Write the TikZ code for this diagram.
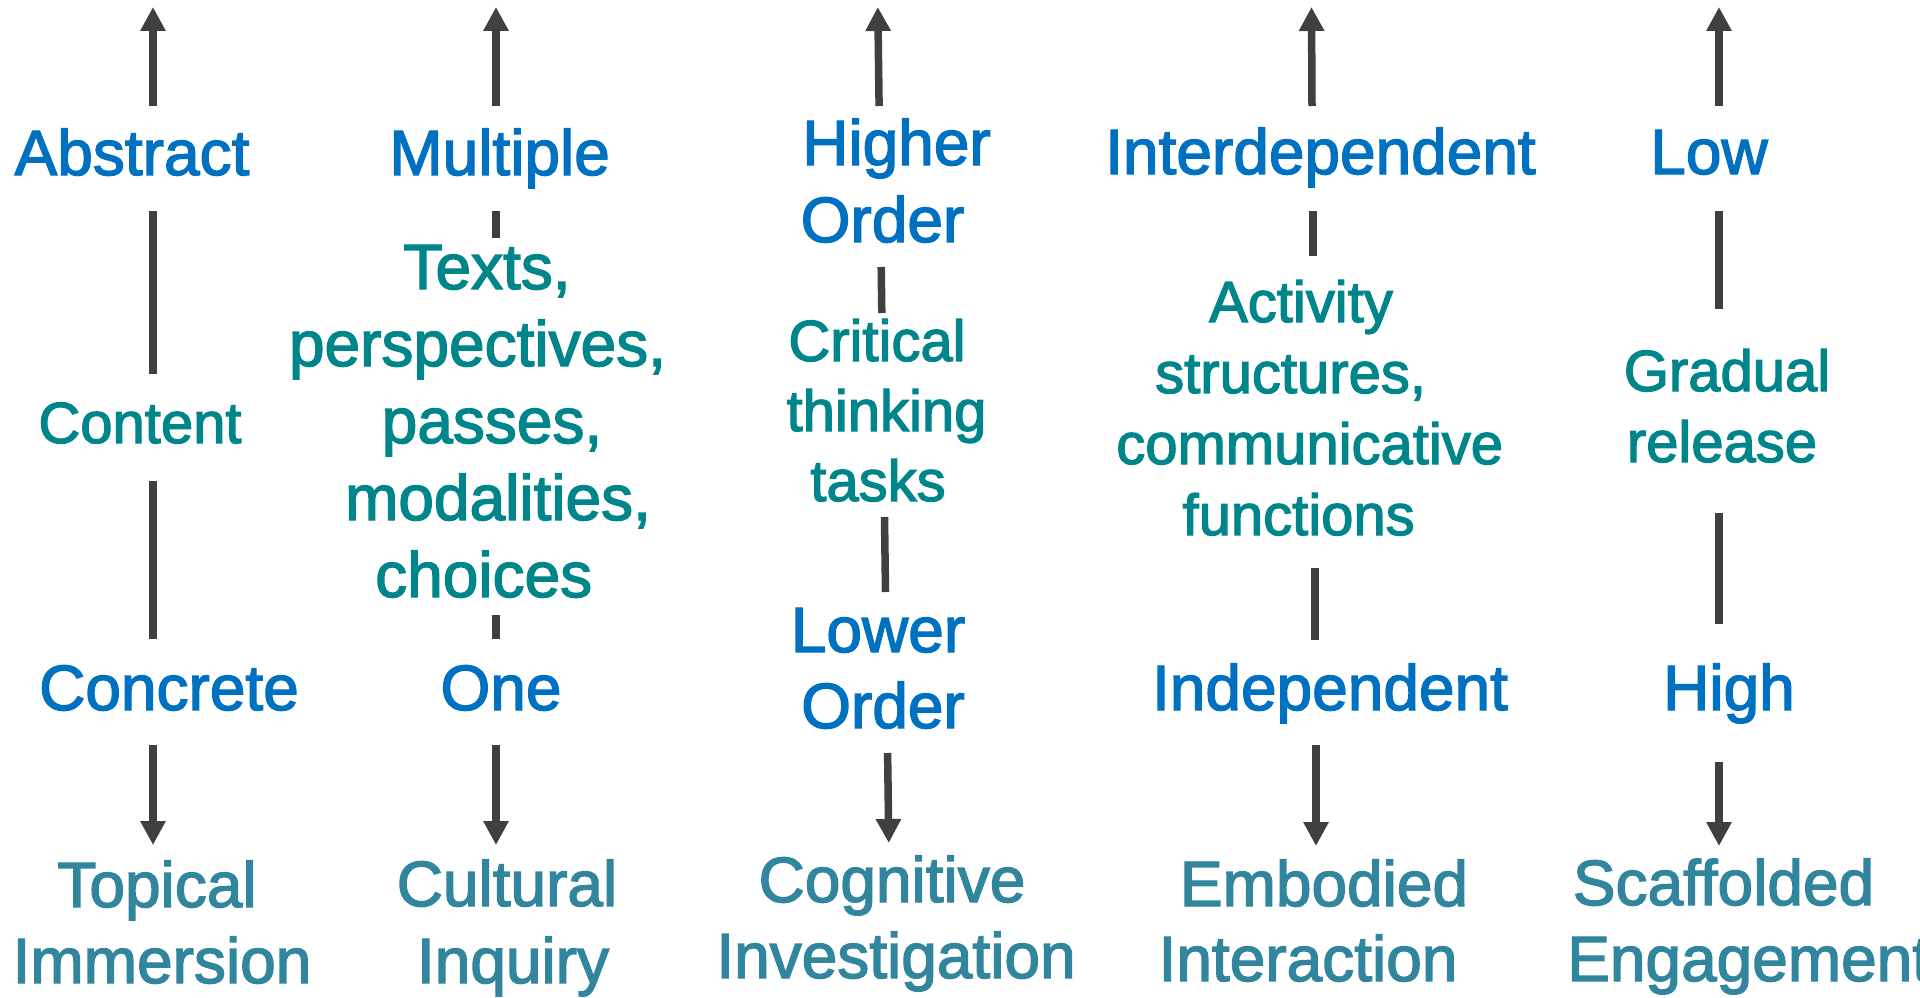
\documentclass[tikz,border=0pt]{standalone}
\usepackage{fontspec}
\setmainfont{Liberation Sans}[FakeBold=2.2]
\usetikzlibrary{arrows.meta}
\definecolor{cblue}{HTML}{0070C0}
\definecolor{cteal}{HTML}{00858A}
\definecolor{caqua}{HTML}{31859C}
\definecolor{cgray}{HTML}{404040}
\begin{document}
\begin{tikzpicture}[x=1pt,y=-1pt,
  lbl/.style={anchor=base,inner sep=0pt,font=\fontsize{64}{76.8}\selectfont},
  hi/.style={lbl,text=cblue},
  midbig/.style={lbl,text=cteal},
  mid/.style={anchor=base,inner sep=0pt,text=cteal,font=\fontsize{58}{70}\selectfont},
  bot/.style={lbl,text=caqua},
  conn/.style={draw=cgray,line width=7.5pt},
  arr/.style={conn,-{Triangle[length=24pt,width=24pt]}}]
\useasboundingbox (0,0) rectangle (1920,998);

% ---------- column 1 ----------
\coordinate (c1top) at (153,7);
\coordinate (c1a) at (153,106);
\node[hi] (abstract) at (132,175) {Abstract};
\coordinate (c1b) at (153,211);
\coordinate (c1c) at (153,374);
\node[mid] (content) at (140,443) {Content};
\coordinate (c1d) at (153,481);
\coordinate (c1e) at (153,639);
\node[hi] (concrete) at (169,710) {Concrete};
\coordinate (c1f) at (153,745);
\coordinate (c1bot) at (153,845);
\node[bot] (topical) at (157,907) {Topical};
\node[bot] (immersion) at (162,983) {Immersion};
\draw[arr] (c1a) -- (c1top);
\draw[conn] (c1b) -- (c1c);
\draw[conn] (c1d) -- (c1e);
\draw[arr] (c1f) -- (c1bot);

% ---------- column 2 ----------
\coordinate (c2top) at (496,7);
\coordinate (c2a) at (496,106);
\node[hi] (multiple) at (499.6,175) {Multiple};
\coordinate (c2b) at (496,211);
\coordinate (c2c) at (496,238);
\node[midbig] (texts) at (487,289) {Texts,};
\node[midbig] (persp) at (477.5,366) {perspectives,};
\node[midbig] (passes) at (492,443) {passes,};
\node[midbig] (modal) at (498,520) {modalities,};
\node[midbig] (choices) at (483.7,597) {choices};
\coordinate (c2d) at (496,615);
\coordinate (c2e) at (496,639);
\node[hi] (one) at (501,710) {One};
\coordinate (c2f) at (496,745);
\coordinate (c2bot) at (496,845);
\node[bot] (cultural) at (507,906) {Cultural};
\node[bot] (inquiry) at (513,983) {Inquiry};
\draw[arr] (c2a) -- (c2top);
\draw[conn] (c2b) -- (c2c);
\draw[conn] (c2d) -- (c2e);
\draw[arr] (c2f) -- (c2bot);

% ---------- column 3 ----------
\coordinate (c3top) at (877.8,7);
\coordinate (c3a) at (879.1,106);
\node[hi] (higher) at (896.5,165) {Higher};
\node[hi] (order1) at (882.5,242) {Order};
\coordinate (c3b) at (881.2,267);
\coordinate (c3c) at (881.8,313);
\node[mid] (critical) at (877,361) {Critical};
\node[mid] (thinking) at (886.5,431) {thinking};
\node[mid] (tasks) at (878,501) {tasks};
\coordinate (c3d) at (884.5,517);
\coordinate (c3e) at (885.5,592);
\node[hi] (lower) at (878,652) {Lower};
\node[hi] (order2) at (883,728) {Order};
\coordinate (c3f) at (887.6,753);
\coordinate (c3bot) at (888.8,843);
\node[bot] (cognitive) at (892,902) {Cognitive};
\node[bot] (investigation) at (896,978) {Investigation};
\draw[arr] (c3a) -- (c3top);
\draw[conn] (c3b) -- (c3c);
\draw[conn] (c3d) -- (c3e);
\draw[arr] (c3f) -- (c3bot);

% ---------- column 4 ----------
\coordinate (c4top) at (1311.5,7);
\coordinate (c4a) at (1312,106);
\node[hi] (interdep) at (1320.5,174) {Interdependent};
\coordinate (c4b) at (1313,211);
\coordinate (c4c) at (1313,256);
\node[mid] (activity) at (1301,322) {Activity};
\node[mid] (structures) at (1290.6,393) {structures,};
\node[mid] (communicative) at (1309.7,464) {communicative};
\node[mid] (functions) at (1298.6,535) {functions};
\coordinate (c4d) at (1315,568);
\coordinate (c4e) at (1315,640);
\node[hi] (independent) at (1330,710) {Independent};
\coordinate (c4f) at (1316,745);
\coordinate (c4bot) at (1316,846);
\node[bot] (embodied) at (1324,906) {Embodied};
\node[bot] (interaction) at (1308,981) {Interaction};
\draw[arr] (c4a) -- (c4top);
\draw[conn] (c4b) -- (c4c);
\draw[conn] (c4d) -- (c4e);
\draw[arr] (c4f) -- (c4bot);

% ---------- column 5 ----------
\coordinate (c5top) at (1719,7);
\coordinate (c5a) at (1719,106);
\node[hi] (low) at (1709,174) {Low};
\coordinate (c5b) at (1719,211);
\coordinate (c5c) at (1719,309);
\node[mid] (gradual) at (1727,391) {Gradual};
\node[mid] (release) at (1722,462) {release};
\coordinate (c5d) at (1719,513);
\coordinate (c5e) at (1719,624);
\node[hi] (high) at (1729,710) {High};
\coordinate (c5f) at (1719,762);
\coordinate (c5bot) at (1719,846);
\node[bot] (scaffolded) at (1723.5,905) {Scaffolded};
\node[bot,anchor=base west] (engagement) at (1567,981) {Engagement};
\draw[arr] (c5a) -- (c5top);
\draw[conn] (c5b) -- (c5c);
\draw[conn] (c5d) -- (c5e);
\draw[arr] (c5f) -- (c5bot);
\end{tikzpicture}
\end{document}
